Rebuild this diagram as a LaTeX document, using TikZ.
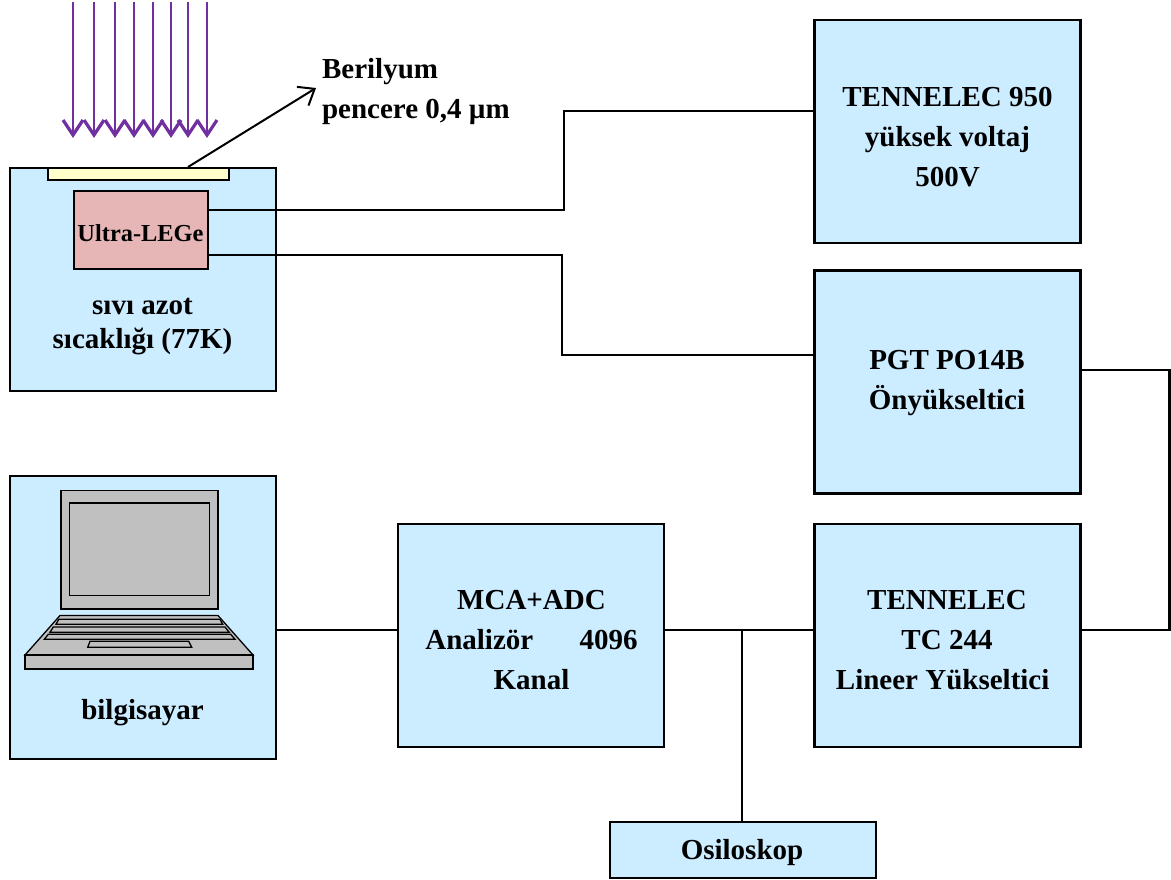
\documentclass[tikz,border=0pt]{standalone}
\usepackage{fontspec}
\setmainfont{Liberation Serif}
\usetikzlibrary{arrows.meta}
\definecolor{boxblue}{HTML}{CCECFF}
\definecolor{detred}{HTML}{E6B6B6}
\definecolor{winyellow}{HTML}{FFFFCC}
\definecolor{beampurple}{HTML}{7030A0}
\definecolor{pcgray}{HTML}{C0C0C0}
\tikzset{
	box/.style={draw=black, fill=boxblue, line width=1.2pt, minimum width=133pt, minimum height=111.5pt},
	txt/.style={align=center, font=\fontsize{14.5}{20}\selectfont\bfseries},
	wire/.style={black, line width=1.2pt},
	beam/.style={beampurple, line width=1.3pt},
	pc/.style={draw=black, fill=pcgray, line width=0.65pt},
}
\begin{document}
\begin{tikzpicture}[x=0.5pt, y=-0.5pt]
			\useasboundingbox (0,0) rectangle (1171,879);
			\foreach \x in {73,94,115,134,153,171,188,207} {
				\draw[beam] (\x,2) -- (\x,134);
				\draw[beam, line width=1.6pt] (\x-10,120) -- (\x,135) -- (\x+10,120);
			}
			\node[box] (det) at (143,279.5) {};
			\node[draw=black, fill=winyellow, line width=1.3pt, minimum width=90.5pt, minimum height=6pt, inner sep=0pt] (win) at (138.5,174) {};
			\node[draw=black, fill=detred, line width=1.2pt, minimum width=67pt, minimum height=39pt, inner sep=0pt] (ultra) at (141,230) {};
			\node[font=\fontsize{12.2}{14}\selectfont\bfseries] (ultratxt) at (140.5,233) {Ultra-LEGe};
			\node[txt, font=\fontsize{14.5}{17}\selectfont\bfseries] (azot) at (142.5,327) {sıvı azot\\sıcaklığı (77K)};
			\node[txt, anchor=west, align=left] (ber) at (315,92) {Berilyum\\pencere 0,4 µm};
			\node[box] (hv) at (947.5,131.5) {};
			\node[txt] (hvtxt) at (947.5,137) {TENNELEC 950\\yüksek voltaj\\500V};
			\node[box] (pgt) at (947.5,382) {};
			\node[txt] (pgttxt) at (947,383) {PGT PO14B\\Önyükseltici};
			\node[box] (lin) at (947.5,635.5) {};
			\node[txt] (lintxt) at (947,640) {TENNELEC\\TC 244\\Lineer Yükseltici\hspace*{0.3em}};
			\node[box] (mca) at (531,635.5) {};
			\node[txt] (mcatxt) at (531.5,640) {MCA+ADC\\Analizör\hspace{1.6em}4096\\Kanal};
			\node[box, minimum height=141.5pt] (pc) at (143,617.5) {};
			\node[txt] (pctxt) at (142.5,713) {bilgisayar};
			\node[box, minimum height=28pt] (osc) at (743,850) {};
			\node[txt] (osctxt) at (742,853) {Osiloskop};
			\draw[pc] (61,490.5) rectangle (218,609);
			\draw[pc] (69.5,503) rectangle (209.5,595.5);
			\draw[pc] (60,615.5) -- (218,615.5) -- (253,655) -- (25,655) -- cycle;
			\draw[pc] (25,655) rectangle (253,669);
			\draw[pc] (58.7,619.3) -- (220,619.3) -- (222.7,624.3) -- (56,624.3) -- cycle;
			\draw[pc] (53.3,627) -- (225,627) -- (229.3,632.3) -- (50,632.3) -- cycle;
			\draw[pc] (48.3,634.3) -- (230.7,634.3) -- (235,639.3) -- (44.3,639.3) -- cycle;
			\draw[pc] (90,641.3) -- (188.7,641.3) -- (191.7,647.3) -- (87.7,647.3) -- cycle;
			\coordinate (up) at (208,210);
			\coordinate (down) at (208,255);
			\coordinate (hvin) at (814,111);
			\coordinate (pgtin) at (814,355);
			\coordinate (pgtout) at (1081,370);
			\coordinate (bus) at (742,630);
			\coordinate (tip) at (316,88);
			\coordinate (wintop) at (188,167);
			\draw[black, line width=1pt, -{Straight Barb[length=7pt, width=11pt]}] (wintop) -- (tip);
			\draw[wire] (up) -- (564,210) -- (564,111) -- (hvin);
			\draw[wire] (down) -- (562,255) -- (562,355) -- (pgtin);
			\draw[wire] (pgtout) -- (1169.5,370) -- (1169.5,630) -- (lin.east |- bus);
			\draw[wire] (pc.east |- bus) -- (mca.west |- bus);
			\draw[wire] (mca.east |- bus) -- (lin.west |- bus);
			\draw[wire] (bus) -- (bus |- osc.north);
		\end{tikzpicture}
\end{document}
